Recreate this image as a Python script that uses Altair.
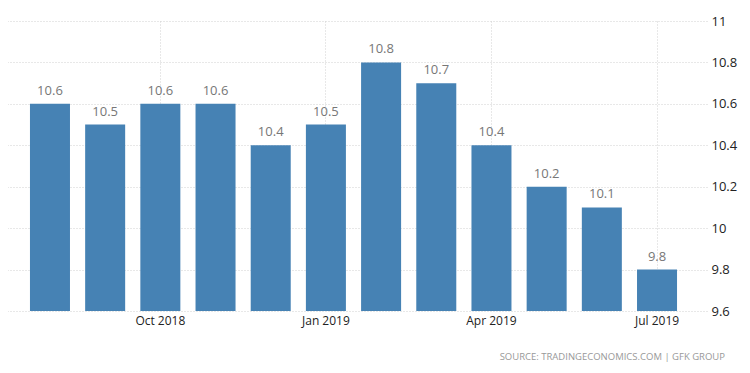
import altair as alt
import pandas as pd

months = ["Aug 2018", "Sep 2018", "Oct 2018", "Nov 2018", "Dec 2018", "Jan 2019",
          "Feb 2019", "Mar 2019", "Apr 2019", "May 2019", "Jun 2019", "Jul 2019"]
values = [10.6, 10.5, 10.6, 10.6, 10.4, 10.5, 10.8, 10.7, 10.4, 10.2, 10.1, 9.8]
tick_months = ["Oct 2018", "Jan 2019", "Apr 2019", "Jul 2019"]
y_ticks = [9.6, 9.8, 10.0, 10.2, 10.4, 10.6, 10.8, 11.0]

df = pd.DataFrame({"month": months, "value": values})

FONT = "Open Sans"

x = alt.X("month:N", sort=months, title=None,
          scale=alt.Scale(paddingInner=0.275, paddingOuter=0.543),
          axis=alt.Axis(values=tick_months, labelAngle=0, labelFont=FONT,
                        labelFontSize=12, labelColor="#222", labelPadding=4,
                        domain=False, ticks=False, grid=True, bandPosition=0.5,
                        gridColor="#d0d0d0", gridDash=[1, 2], gridWidth=1))
y = alt.Y("value:Q", title=None,
          scale=alt.Scale(domain=[9.6, 11.0], zero=False, nice=False),
          axis=alt.Axis(orient="right", values=y_ticks, format=".1~f",
                        labelFont=FONT, labelFontSize=13, labelColor="#222",
                        labelPadding=4, domain=False, ticks=False,
                        gridColor="#d0d0d0", gridDash=[1, 2], gridWidth=1))

bars = alt.Chart(df).mark_bar(color="#4682b4").encode(x=x, y=y, y2=alt.datum(9.6))
labels = alt.Chart(df).mark_text(dy=-13, font=FONT, fontSize=13, color="#777").encode(
    x=x, y=y, text=alt.Text("value:Q", format=".1f"))

chart = (bars + labels).properties(
    width=707, height=290,
    padding={"left": -8, "top": 13, "right": 35, "bottom": 62},
    autosize="none",
    title=alt.TitleParams("SOURCE:  TRADINGECONOMICS.COM  |  GFK GROUP", orient="bottom",
                          anchor="end", frame="group", dx=18, offset=26, font=FONT,
                          fontSize=9.5, fontWeight="normal", color="#999"),
).configure_view(stroke=None)

chart.save("out.html", embed_options={"renderer": "svg", "actions": False})
